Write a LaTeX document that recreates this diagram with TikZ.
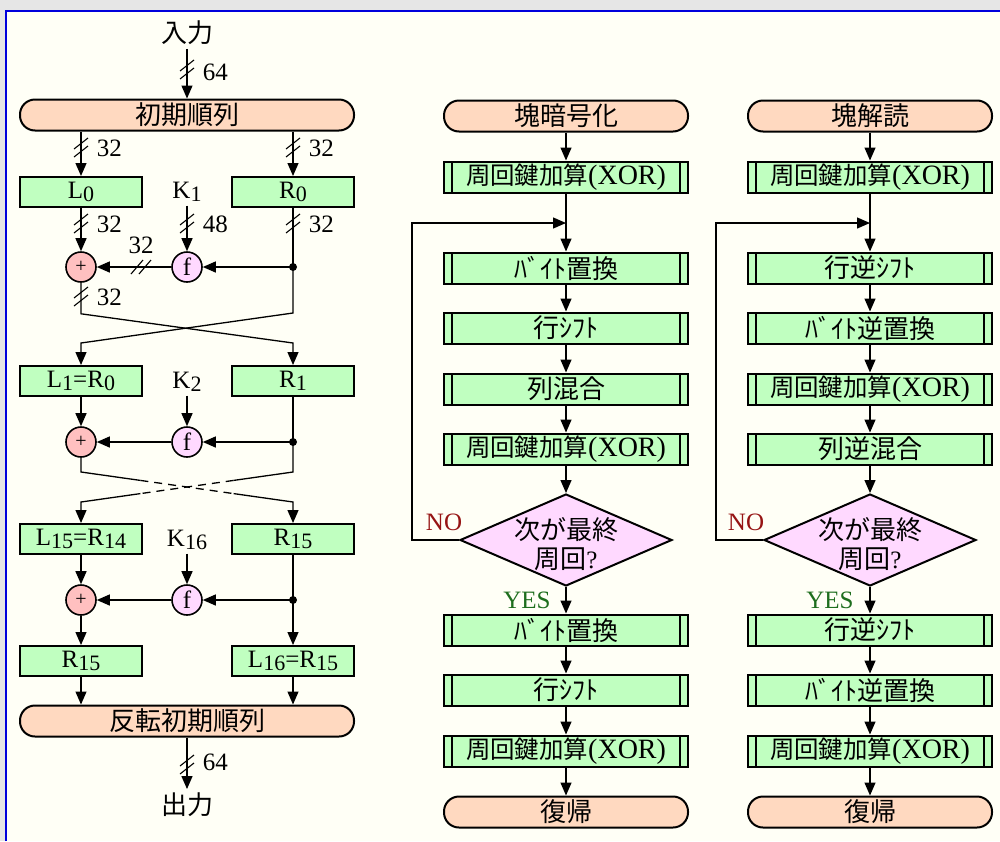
\documentclass[tikz,border=0pt]{standalone}
\usepackage{fontspec}
\setmainfont{Liberation Serif}
\newfontfamily\jp{Noto Sans CJK JP}[Scale=1.04]
\usetikzlibrary{arrows.meta,shapes.geometric,calc}

\definecolor{outer}{RGB}{230,230,230}
\definecolor{paper}{RGB}{255,255,246}
\definecolor{frame}{RGB}{0,0,220}
\definecolor{peach}{RGB}{255,217,192}
\definecolor{mint}{RGB}{192,255,192}
\definecolor{lilac}{RGB}{255,217,255}
\definecolor{rose}{RGB}{255,192,192}
\definecolor{nored}{RGB}{150,20,20}
\definecolor{yesgreen}{RGB}{30,110,30}

\newcommand\lo[1]{\raisebox{-0.25ex}{\fontsize{22}{22}\selectfont #1}}
\newcommand\xorkey{{\fontsize{23.5}{28}\selectfont\jp 周回鍵加算}{\fontsize{28}{28}\selectfont(XOR)}}
\newcommand\testtext[1]{\smash{\makebox[0pt]{\raisebox{-13pt}{\begin{tabular}{@{}c@{}}#1\end{tabular}}}}}

\tikzset{
	term/.style={draw,line width=2pt,fill=peach,rounded corners=15pt,minimum width=244pt,minimum height=31pt,inner sep=0pt},
	reg/.style={draw,line width=2pt,fill=mint,minimum width=122pt,minimum height=30pt,inner sep=0pt},
	proc/.style={draw,line width=2pt,fill=mint,minimum width=244pt,minimum height=31pt,inner sep=0pt,
		path picture={
			\draw[line width=1.3pt] ([xshift=8pt]path picture bounding box.north west) -- ([xshift=8pt]path picture bounding box.south west);
			\draw[line width=1.3pt] ([xshift=-8pt]path picture bounding box.north east) -- ([xshift=-8pt]path picture bounding box.south east);}},
	xorop/.style={circle,draw,line width=1.6pt,fill=rose,minimum size=30pt,inner sep=0pt,font=\fontsize{20}{20}\selectfont},
	fop/.style={circle,draw,line width=1.6pt,fill=lilac,minimum size=30pt,inner sep=0pt},
	test/.style={diamond,draw,line width=2pt,fill=lilac,minimum width=212pt,minimum height=92pt,inner sep=0pt},
	vbus/.pic={\draw[line width=1.1pt] (-7,1) -- (7,-10); \draw[line width=1.1pt] (-7,9) -- (7,-2);},
	hbus/.pic={\draw[line width=1.1pt] (-11,7) -- (1,-7); \draw[line width=1.1pt] (-3,7) -- (9,-7);}
}

\begin{document}
\begin{tikzpicture}[x=1pt,y=-1pt,line width=1.3pt,>={Triangle[length=13pt,width=11pt]},font=\fontsize{25}{28}\selectfont]

	\useasboundingbox (0,0) rectangle (1000,841);
	\fill[outer] (0,0) rectangle (1000,841);
	\fill[paper] (6,11) rectangle (1000,841);
	\draw[frame,line width=2pt] (6,841) -- (6,11) -- (1000,11);

	% DES
	\node(in) at (187,33) {\jp 入力};
	\node(ip) at (187,115)[term,minimum width=334pt] {\jp 初期順列};
	\node(l0) at (81,192)[reg] {L\lo{0}};
	\node(r0) at (293,192)[reg] {R\lo{0}};
	\node(k1) at (187,192) {K\lo{1}};
	\node(x1) at (81,267)[xorop] {+};
	\node(f1) at (187,267)[fop] {f};
	\coordinate(j1) at (293,267);
	\node(l1) at (81,381)[reg] {L\lo{1}=R\lo{0}};
	\node(r1) at (293,381)[reg] {R\lo{1}};
	\node(k2) at (187,382) {K\lo{2}};
	\node(x2) at (81,442)[xorop] {+};
	\node(f2) at (187,442)[fop] {f};
	\coordinate(j2) at (293,442);
	\node(l15) at (81,539)[reg] {L\lo{15}=R\lo{14}};
	\node(r15) at (293,539)[reg] {R\lo{15}};
	\node(k16) at (187,540) {K\lo{16}};
	\node(x3) at (81,600)[xorop] {+};
	\node(f3) at (187,600)[fop] {f};
	\coordinate(j3) at (293,600);
	\node(r15b) at (81,661)[reg] {R\lo{15}};
	\node(l16) at (293,661)[reg] {L\lo{16}=R\lo{15}};
	\node(fp) at (187,721)[term,minimum width=334pt] {\jp 反転初期順列};
	\node(out) at (187,805) {\jp 出力};
	\coordinate(c1) at (81,472);
	\coordinate(c2) at (293,472);
	\coordinate(c3) at (81,502);
	\coordinate(c4) at (293,502);

		\draw[->] (in) -- (ip);
		\pic at (187,70) {vbus};
		\node(w1) at (199,72)[anchor=west] {64};
		\draw[->] (ip.south -| l0) -- (l0);
		\draw[->] (ip.south -| r0) -- (r0);
		\pic at (81,148) {vbus};
		\pic at (293,148) {vbus};
		\node(w2) at (93,148)[anchor=west] {32};
		\node(w3) at (305,148)[anchor=west] {32};
		\draw[->] (l0) -- (x1);
		\draw[->] (k1) -- (f1);
		\draw (r0) -- (j1);
		\pic at (81,224) {vbus};
		\pic at (187,224) {vbus};
		\pic at (293,224) {vbus};
		\node(w4) at (93,224)[anchor=west] {32};
		\node(w5) at (199,224)[anchor=west] {48};
		\node(w6) at (305,224)[anchor=west] {32};
		\fill (j1) circle (4pt);
		\draw[->] (j1) -- (f1);
		\draw[->] (f1) -- (x1);
		\pic at (142,267) {hbus};
		\node(w7) at (141,245) {32};
		\draw[->] (x1.south) -- ++(0,31) -- ([yshift=22pt]r1.north) -- (r1);
		\draw[->] (j1) -- ++(0,46) -- ([yshift=22pt]l1.north) -- (l1);
		\pic at (81,297) {vbus};
		\node(w8) at (93,297)[anchor=west] {32};

		\draw[->] (l1) -- (x2);
		\draw[->] (k2) -- (f2);
		\draw (r1) -- (j2);
		\fill (j2) circle (4pt);
		\draw[->] (j2) -- (f2);
		\draw[->] (f2) -- (x2);
		\draw (x2) -- (c1) -- ($(c1)!0.28!(c4)$);
		\draw[dashed,dash pattern=on 8pt off 6pt] ($(c1)!0.28!(c4)$) -- ($(c1)!0.72!(c4)$);
		\draw[->] ($(c1)!0.72!(c4)$) -- (c4) -- (r15);
		\draw (j2) -- (c2) -- ($(c2)!0.28!(c3)$);
		\draw[dashed,dash pattern=on 8pt off 6pt] ($(c2)!0.28!(c3)$) -- ($(c2)!0.72!(c3)$);
		\draw[->] ($(c2)!0.72!(c3)$) -- (c3) -- (l15);

		\draw[->] (l15) -- (x3);
		\draw[->] (k16) -- (f3);
		\draw (r15) -- (j3);
		\fill (j3) circle (4pt);
		\draw[->] (j3) -- (f3);
		\draw[->] (f3) -- (x3);
		\draw[->] (x3) -- (r15b);
		\draw[->] (j3) -- (l16);
		\draw[->] (r15b) -- (r15b |- fp.north);
		\draw[->] (l16) -- (l16 |- fp.north);
		\draw[->] (fp) -- (out);
		\pic at (187,765) {vbus};
		\node(w9) at (199,762)[anchor=west] {64};

	% AES encryption
	\node(e0) at (566,116)[term] {\jp 塊暗号化};
	\node(e1) at (566,177)[proc] {\xorkey};
	\coordinate(em) at (566,223);
	\node(e2) at (566,268)[proc] {\jp ﾊﾞｲﾄ置換};
	\node(e3) at (566,328)[proc] {\jp 行ｼﾌﾄ};
	\node(e4) at (566,389)[proc] {\jp 列混合};
	\node(e5) at (566,449)[proc] {\xorkey};
	\node(ed) at (566,540)[test] {\testtext{{\jp 次が最終}\\{\jp 周回}?}};
	\node(e6) at (566,630)[proc] {\jp ﾊﾞｲﾄ置換};
	\node(e7) at (566,690)[proc] {\jp 行ｼﾌﾄ};
	\node(e8) at (566,751)[proc] {\xorkey};
	\node(e9) at (566,812)[term] {\jp 復帰};
	\node(eno) at (444,522)[text=nored] {NO};
	\node(eyes) at (527,600)[text=yesgreen] {YES};
		\draw[->] (e0) -- (e1);
		\draw[->] (e1) -- (e2);
		\draw[->] (e2) -- (e3);
		\draw[->] (e3) -- (e4);
		\draw[->] (e4) -- (e5);
		\draw[->] (e5) -- (ed);
		\draw[->] (ed) -- (e6);
		\draw[->] (e6) -- (e7);
		\draw[->] (e7) -- (e8);
		\draw[->] (e8) -- (e9);
		\draw[->] (ed.west) -- ++(-47,0) |- (em);

	% AES decryption
	\node(d0) at (870,116)[term] {\jp 塊解読};
	\node(d1) at (870,177)[proc] {\xorkey};
	\coordinate(dm) at (870,223);
	\node(d2) at (870,268)[proc] {\jp 行逆ｼﾌﾄ};
	\node(d3) at (870,328)[proc] {\jp ﾊﾞｲﾄ逆置換};
	\node(d4) at (870,389)[proc] {\xorkey};
	\node(d5) at (870,449)[proc] {\jp 列逆混合};
	\node(dd) at (870,540)[test] {\testtext{{\jp 次が最終}\\{\jp 周回}?}};
	\node(d6) at (870,630)[proc] {\jp 行逆ｼﾌﾄ};
	\node(d7) at (870,690)[proc] {\jp ﾊﾞｲﾄ逆置換};
	\node(d8) at (870,751)[proc] {\xorkey};
	\node(d9) at (870,812)[term] {\jp 復帰};
	\node(dno) at (746,522)[text=nored] {NO};
	\node(dyes) at (830,600)[text=yesgreen] {YES};
		\draw[->] (d0) -- (d1);
		\draw[->] (d1) -- (d2);
		\draw[->] (d2) -- (d3);
		\draw[->] (d3) -- (d4);
		\draw[->] (d4) -- (d5);
		\draw[->] (d5) -- (dd);
		\draw[->] (dd) -- (d6);
		\draw[->] (d6) -- (d7);
		\draw[->] (d7) -- (d8);
		\draw[->] (d8) -- (d9);
		\draw[->] (dd.west) -- ++(-47,0) |- (dm);

\end{tikzpicture}
\end{document}
